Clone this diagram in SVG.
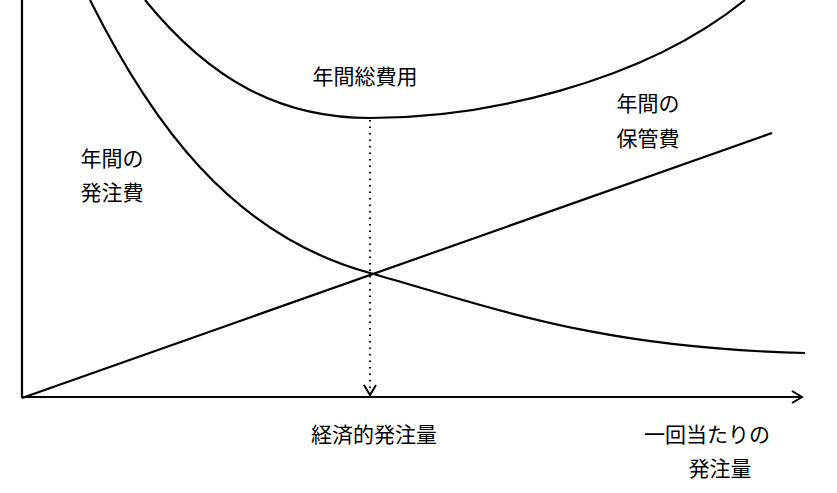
<svg xmlns="http://www.w3.org/2000/svg" width="837" height="493" viewBox="0 0 837 493">
<style>
.ln{fill:none;stroke:#000;stroke-width:2.2}
.t{font-family:"Noto Sans CJK JP",sans-serif;font-size:21px;fill:#000;text-anchor:middle}
</style>
<defs>
<marker id="open" markerWidth="14" markerHeight="14" refX="11" refY="7" orient="auto" markerUnits="userSpaceOnUse">
<path d="M1,1 L11,7 L1,13" fill="none" stroke="#000" stroke-width="2"/>
</marker>
</defs>
<rect width="837" height="493" fill="#fff"/>
<g id="axes">
<line class="ln" x1="22" y1="0" x2="22" y2="398"/>
<line class="ln" x1="22" y1="397" x2="802" y2="397" marker-end="url(#open)"/>
</g>
<g id="curves">
<line class="ln" x1="22" y1="398" x2="772" y2="133"/>
<path class="ln" d="M90,0 C150,120 230,235 370,273 C500,310 600,348 805,353"/>
<path class="ln" d="M145,0 C210,80 280,118 370,118 C480,118 640,85 745,0"/>
<line x1="370" y1="120" x2="370" y2="395" stroke="#000" stroke-width="2" stroke-dasharray="1.5,5" marker-end="url(#open)"/>
</g>
<g id="labels">
<text class="t" x="365" y="84">年間総費用</text>
<text class="t" x="648" y="111">年間の</text>
<text class="t" x="648" y="146">保管費</text>
<text class="t" x="112" y="166">年間の</text>
<text class="t" x="112" y="200">発注費</text>
<text class="t" x="374" y="442">経済的発注量</text>
<text class="t" x="707" y="442">一回当たりの</text>
<text class="t" x="720" y="476">発注量</text>
</g>
</svg>
